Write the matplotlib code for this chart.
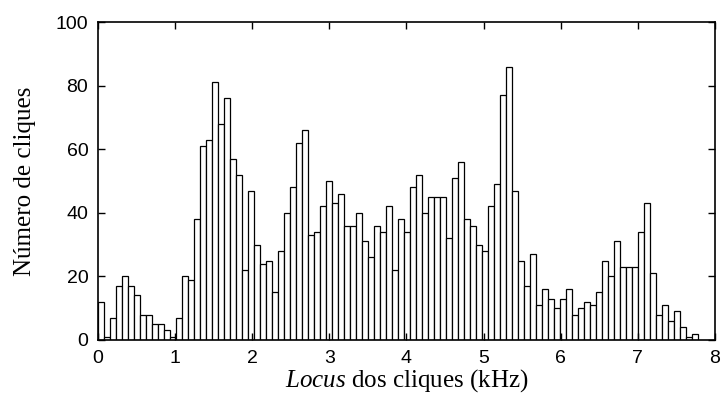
import numpy as np
import matplotlib.pyplot as plt

# contagens por classe (100 classes de 0 a ~7.78 kHz)
contagens = [12, 1, 7, 17, 20, 17, 14, 8, 8, 5,
             5, 3, 1, 7, 20, 19, 38, 61, 63, 81,
             68, 76, 57, 52, 22, 47, 30, 24, 25, 15,
             28, 40, 48, 62, 66, 33, 34, 42, 50, 43,
             46, 36, 36, 40, 31, 26, 36, 34, 42, 22,
             38, 34, 48, 52, 40, 45, 45, 45, 32, 51,
             56, 38, 36, 30, 28, 42, 49, 77, 86, 47,
             25, 17, 27, 11, 16, 13, 10, 13, 16, 8,
             10, 12, 11, 15, 25, 20, 31, 23, 23, 23,
             34, 43, 21, 8, 11, 6, 9, 4, 1, 2]
f_max = 7.78  # kHz
x_ticks = [0, 1, 2, 3, 4, 5, 6, 7, 8]
y_ticks = [0, 20, 40, 60, 80, 100]

plt.rcParams['mathtext.fontset'] = 'custom'
plt.rcParams['mathtext.rm'] = 'Liberation Serif'
plt.rcParams['mathtext.it'] = 'Liberation Serif:italic'

bordas = np.linspace(0, f_max, len(contagens) + 1)

fig = plt.figure(figsize=(7.24, 4.05), dpi=100)
ax = fig.add_axes([0.1354, 0.1605, 0.852, 0.785])

ax.bar(bordas[:-1], contagens, width=np.diff(bordas), align='edge',
       facecolor='white', edgecolor='black', linewidth=0.9)

ax.set_xlim(0, 8)
ax.set_ylim(0, 100)
ax.set_xticks(x_ticks)
ax.set_yticks(y_ticks)
ax.tick_params(direction='in', top=True, right=True, length=5, width=1,
               labelsize=14, pad=7)
for lab in ax.get_xticklabels() + ax.get_yticklabels():
    lab.set_family('Liberation Sans')
for s in ax.spines.values():
    s.set_linewidth(1.2)

ax.set_xlabel(r'$\it{Locus}$ dos cliques (kHz)', family='Liberation Serif', fontsize=18,
              labelpad=0)
ax.set_ylabel('Número de cliques', family='Liberation Serif', fontsize=18, labelpad=14)

fig.savefig('out.png', dpi=100)
